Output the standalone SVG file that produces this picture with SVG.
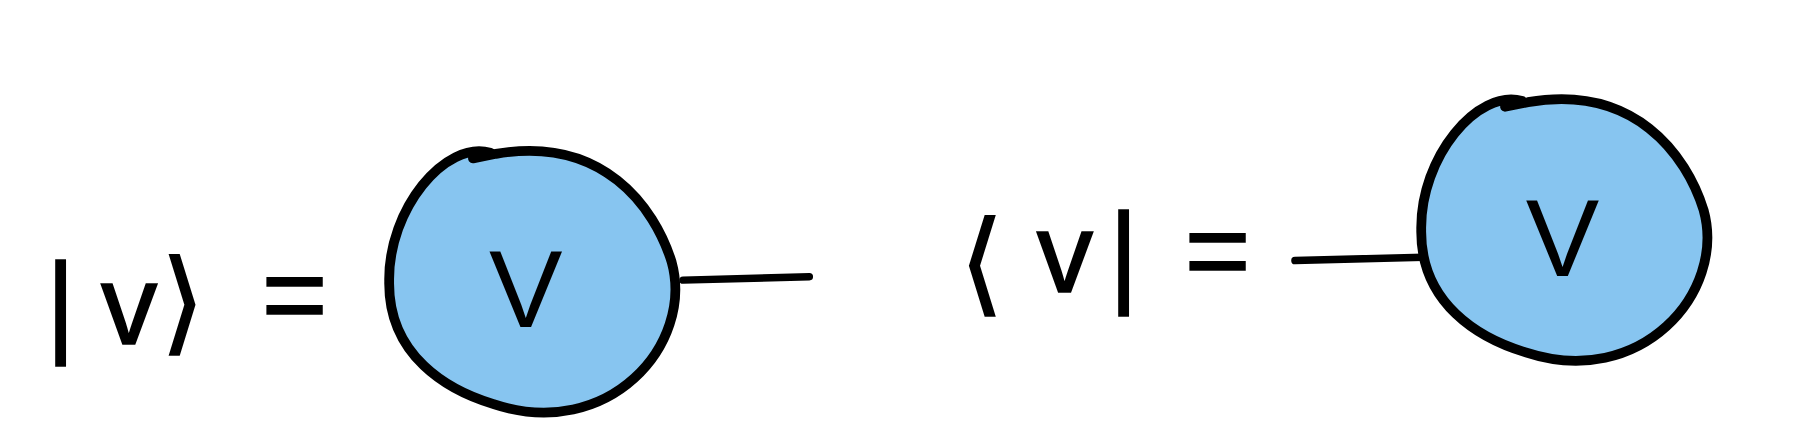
<svg xmlns="http://www.w3.org/2000/svg" width="1800" height="442" viewBox="0 0 1800 442">
<style>
.blob{fill:#87c5f0;stroke:#000;stroke-width:8.5;stroke-linejoin:round;stroke-linecap:round}
.wire{fill:none;stroke:#000;stroke-width:6.5;stroke-linecap:round}
.lbl{font-family:"Liberation Sans","DejaVu Sans",sans-serif;font-size:98px;fill:#000;stroke:#000;stroke-width:1.5}
.v{font-family:"Liberation Sans","DejaVu Sans",sans-serif;font-size:96px;fill:#000;text-anchor:middle}
</style>
<rect width="1800" height="442" fill="#fff"/>
<g transform="scale(1.148)">
<g id="connectors">
<path class="wire" d="M595,244 L705,241"/>
<path class="wire" d="M1128,227 L1240,224"/>
</g>
<g id="ket-label">
<text class="lbl" y="298"><tspan x="40">|</tspan><tspan x="88" y="300">v</tspan><tspan x="140" y="296">⟩</tspan><tspan x="228" y="290">=</tspan></text>
</g>
<g id="ket-node">
<path class="blob" d="M427,133 C388,122 338,182 339,245 C338,310 390,340 430,352 C530,385 605,300 585,228 C570,180 525,118 432,134 L412,138"/>
<text class="v" x="458" y="285">V</text>
</g>
<g id="bra-label">
<text class="lbl" y="258"><tspan x="836" y="262">⟨</tspan><tspan x="903" y="254">v</tspan><tspan x="966" y="254">|</tspan><tspan x="1032" y="252">=</tspan></text>
</g>
<g id="bra-node">
<path class="blob" d="M1326,88 C1287,77 1237,137 1238,200 C1237,265 1289,295 1329,307 C1429,340 1504,255 1484,183 C1469,135 1424,73 1331,89 L1311,93"/>
<text class="v" x="1361" y="240">V</text>
</g>
</g>
</svg>
